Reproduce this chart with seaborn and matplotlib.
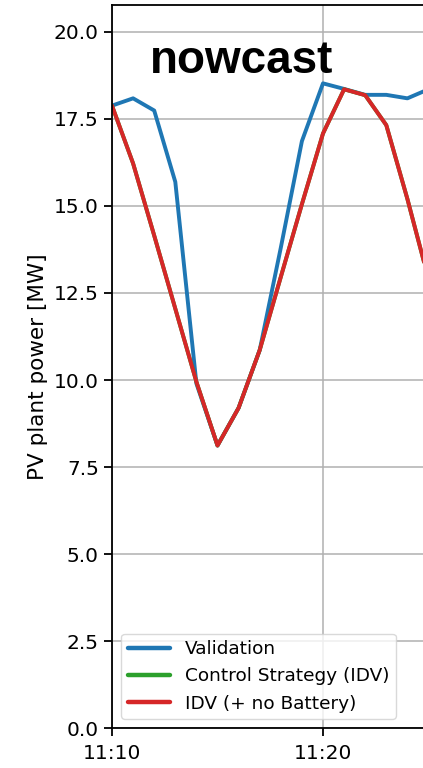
import numpy as np
import pandas as pd
import matplotlib
matplotlib.use("Agg")
import matplotlib.pyplot as plt
import matplotlib.dates as mdates
import seaborn as sns

# ---- data ----
times = ["11:10", "11:11", "11:12", "11:13", "11:14", "11:15", "11:16", "11:17",
         "11:18", "11:19", "11:20", "11:21", "11:22", "11:23", "11:24", "11:25"]
validation = [17.88, 18.09, 17.74, 15.69, 9.9, 8.12, 9.2, 10.86,
              13.8, 16.86, 18.52, 18.36, 18.19, 18.19, 18.09, 18.35]
control_idv = [17.88, 16.22, 14.15, 12.05, 9.95, 8.12, 9.2, 10.86,
               12.96, 15.05, 17.08, 18.35, 18.18, 17.32, 15.2, 12.9]
idv_no_battery = [17.88, 16.22, 14.15, 12.05, 9.95, 8.12, 9.2, 10.86,
                  12.96, 15.05, 17.08, 18.35, 18.18, 17.32, 15.2, 12.9]
series_names = ["Validation", "Control Strategy (IDV)", "IDV (+ no Battery)"]
series_colors = ["#1f77b4", "#2ca02c", "#d62728"]
y_ticks = [0.0, 2.5, 5.0, 7.5, 10.0, 12.5, 15.0, 17.5, 20.0]
x_ticks = ["11:10", "11:20"]

t = pd.to_datetime(["2021-06-01 " + s for s in times])
df = pd.concat([
    pd.DataFrame({"time": t, "power": vals, "series": name})
    for name, vals in zip(series_names, [validation, control_idv, idv_no_battery])
], ignore_index=True)

sns.set_style("ticks")
plt.rcParams["font.family"] = ["DejaVu Sans"]
plt.rcParams["text.color"] = "black"

fig = plt.figure(figsize=(4.23, 7.68), dpi=100)
W, H = 423, 768
ax = fig.add_axes([112 / W, (H - 728.3) / H, 422 / W, (728.3 - 5) / H])

sns.lineplot(data=df, x="time", y="power", hue="series", hue_order=series_names,
             palette=dict(zip(series_names, series_colors)), linewidth=2.8, ax=ax)

ax.set_xlim(pd.Timestamp("2021-06-01 11:10"), pd.Timestamp("2021-06-01 11:30"))
ax.set_ylim(0, 20.77)
ax.set_yticks(y_ticks)
ax.set_xticks(pd.to_datetime(["2021-06-01 " + s for s in x_ticks]))
ax.xaxis.set_major_formatter(mdates.DateFormatter("%H:%M"))
ax.grid(True, color="#b0b0b0", linewidth=1.1)
ax.set_axisbelow(True)
for s in ax.spines.values():
    s.set_color("black")
    s.set_linewidth(1.3)
ax.tick_params(axis="both", labelsize=14.5, length=6, width=1.3, color="black",
               labelcolor="black", direction="out")
ax.tick_params(axis="x", pad=5)
ax.set_xlabel("")
ax.set_ylabel("PV plant power [MW]", fontsize=15.5, labelpad=4, color="black")

leg = ax.legend(loc="lower left", fontsize=13.3, handlelength=2.3,
                labelspacing=0.5, frameon=True, framealpha=0.8,
                borderpad=0.35)
leg.get_frame().set_edgecolor("#d0d0d0")
for txt in leg.get_texts():
    txt.set_color("black")
for line in leg.get_lines():
    line.set_linewidth(3.2)

fig.text(150 / W, (H - 73) / H, "nowcast", fontsize=33, fontweight="bold",
         family=["Liberation Sans", "DejaVu Sans"], va="baseline", ha="left",
         color="black")

fig.savefig("out.png", dpi=100)
